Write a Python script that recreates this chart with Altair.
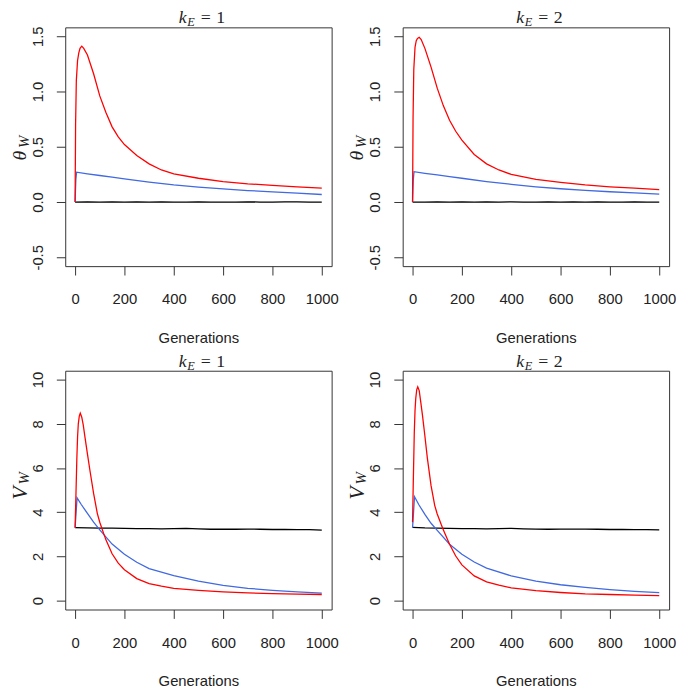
import altair as alt
import pandas as pd

# ---------------- data ----------------
GEN_RED_T = [0, 2, 5, 10, 15, 20, 27, 35, 50, 75, 100, 125, 150, 175, 200,
             250, 300, 350, 400, 500, 600, 700, 800, 900, 1000]
THETA_RED_K1 = [0, 0.70, 1.10, 1.28, 1.35, 1.39, 1.41, 1.39, 1.33, 1.16, 0.96, 0.81,
                0.68, 0.59, 0.52, 0.42, 0.345, 0.29, 0.255, 0.215, 0.185, 0.165,
                0.15, 0.137, 0.126]
THETA_RED_K2 = [0, 0.75, 1.20, 1.40, 1.46, 1.48, 1.49, 1.47, 1.39, 1.22, 1.03, 0.87,
                0.74, 0.64, 0.56, 0.43, 0.345, 0.29, 0.25, 0.205, 0.178, 0.155,
                0.138, 0.125, 0.113]

GEN_BLUE_T = [0, 3, 6, 50, 100, 150, 200, 300, 400, 500, 600, 700, 800, 900, 1000]
THETA_BLUE_K1 = [0, 0.20, 0.27, 0.255, 0.24, 0.225, 0.21, 0.18, 0.155, 0.135, 0.118,
                 0.104, 0.092, 0.080, 0.068]
THETA_BLUE_K2 = [0, 0.20, 0.275, 0.26, 0.245, 0.23, 0.215, 0.185, 0.16, 0.138, 0.12,
                 0.105, 0.093, 0.082, 0.071]

GEN_BLACK = [0, 50, 100, 150, 200, 250, 300, 350, 400, 450, 500, 550, 600, 650,
             700, 750, 800, 850, 900, 950, 1000]
THETA_BLACK_K1 = [0.0, 0.001, -0.001, 0.001, -0.001, 0.001, 0.0, 0.001, -0.001,
                  0.0, 0.001, -0.001, 0.0, -0.001, 0.001, 0.0, -0.001, 0.001,
                  0.001, -0.001, 0.0]
THETA_BLACK_K2 = [0.0, -0.001, 0.001, 0.0, 0.001, -0.001, 0.001, -0.001, 0.001,
                  0.0, -0.001, 0.001, 0.0, 0.001, -0.001, 0.001, 0.0, -0.001,
                  0.001, 0.0, 0.0]

GEN_RED_V = [0, 3, 7, 10, 13, 17, 21, 27, 33, 40, 50, 60, 75, 90, 100, 117, 125,
             150, 175, 200, 250, 300, 350, 400, 500, 600, 700, 800, 900, 1000]
V_RED_K1 = [3.3, 4.6, 6.4, 7.4, 8.0, 8.35, 8.48, 8.3, 7.95, 7.4, 6.64, 5.9, 4.85,
            3.95, 3.55, 3.0, 2.75, 2.12, 1.7, 1.4, 1.0, 0.77, 0.655, 0.56, 0.47,
            0.40, 0.35, 0.32, 0.30, 0.28]
V_RED_K2 = [3.55, 5.4, 7.6, 8.6, 9.15, 9.55, 9.67, 9.5, 9.0, 8.4, 7.45, 6.45, 5.2,
            4.3, 3.92, 3.42, 3.2, 2.55, 2.02, 1.62, 1.12, 0.85, 0.70, 0.58, 0.45,
            0.37, 0.31, 0.28, 0.25, 0.23]

GEN_BLUE_V = [0, 8, 25, 50, 75, 100, 150, 200, 250, 300, 400, 500, 600, 700, 800,
              900, 1000]
V_BLUE_K1 = [3.3, 4.65, 4.35, 3.95, 3.55, 3.2, 2.56, 2.1, 1.74, 1.45, 1.13, 0.88,
             0.69, 0.56, 0.47, 0.40, 0.34]
V_BLUE_K2 = [3.3, 4.7, 4.35, 3.9, 3.5, 3.18, 2.55, 2.1, 1.75, 1.47, 1.12, 0.88,
             0.72, 0.60, 0.50, 0.42, 0.36]

V_BLACK_K1 = [3.30, 3.29, 3.28, 3.28, 3.27, 3.26, 3.26, 3.25, 3.26, 3.27, 3.25,
              3.23, 3.24, 3.23, 3.24, 3.23, 3.22, 3.22, 3.21, 3.21, 3.19]
V_BLACK_K2 = [3.32, 3.29, 3.28, 3.27, 3.26, 3.26, 3.25, 3.26, 3.27, 3.25, 3.24,
              3.23, 3.24, 3.24, 3.24, 3.23, 3.22, 3.22, 3.21, 3.21, 3.20]

X_TICKS = [0, 200, 400, 600, 800, 1000]
THETA_TICKS = [-0.5, 0.0, 0.5, 1.0, 1.5]
V_TICKS = [0, 2, 4, 6, 8, 10]

SERIES = ["black", "blue", "red"]
COLORS = ["#000000", "#4169E1", "#FF0000"]

W, H = 270, 242
SERIF = "Liberation Serif"
SANS = "Liberation Sans"
TXT = "#222222"


def one(text, x, y, size, italic=True, angle=0):
    return alt.Chart(pd.DataFrame({"a": [0]})).mark_text(
        text=text, font=SERIF, fontSize=size,
        fontStyle="italic" if italic else "normal",
        align="center", baseline="middle", angle=angle, color=TXT,
    ).encode(x=alt.value(x), y=alt.value(y))


def panel(red_gen, red, blue_gen, blue, black, domain, ticks, fmt, letter, k,
          title_y, letter_size):
    rows = []
    for g, v in zip(GEN_BLACK, black):
        rows.append({"gen": g, "val": v, "series": "black", "o": 0})
    for g, v in zip(blue_gen, blue):
        rows.append({"gen": g, "val": v, "series": "blue", "o": 1})
    for g, v in zip(red_gen, red):
        rows.append({"gen": g, "val": v, "series": "red", "o": 2})
    df = pd.DataFrame(rows)

    lines = alt.Chart(df).mark_line(strokeWidth=1.3, clip=True).encode(
        x=alt.X("gen:Q",
                scale=alt.Scale(domain=[-40, 1040], nice=False, zero=False),
                axis=alt.Axis(values=X_TICKS, title="Generations", format="d")),
        y=alt.Y("val:Q",
                scale=alt.Scale(domain=domain, nice=False, zero=False),
                axis=alt.Axis(values=ticks, title=None, format=fmt,
                              labelExpr="replace(datum.label, '\u2212', '-')",
                              labelAngle=270, labelAlign="center",
                              labelBaseline="bottom", labelPadding=11)),
        color=alt.Color("series:N",
                        scale=alt.Scale(domain=SERIES, range=COLORS),
                        legend=None),
        order=alt.Order("o:Q"),
    )

    is_theta = letter == "θ"
    ly = 130 if is_theta else 124
    wy = ly - (14 if is_theta else 15)
    layers = [
        lines,
        # panel title  k_E = <k>
        one("k", 119, title_y, 18),
        one("E", 127.5, title_y + 4, 12.5),
        one("=", 142.5, title_y, 18, italic=False),
        one(str(k), 157.5, title_y, 18, italic=False),
        # y axis label  letter_W
        one(letter, -46, ly, letter_size, angle=270),
        one("W", -42, wy, 15, angle=270),
    ]
    return alt.layer(*layers).properties(width=W, height=H)


p1 = panel(GEN_RED_T, THETA_RED_K1, GEN_BLUE_T, THETA_BLUE_K1, THETA_BLACK_K1,
           [-0.58, 1.58], THETA_TICKS, ".1f", "θ", 1, -9, 20)
p2 = panel(GEN_RED_T, THETA_RED_K2, GEN_BLUE_T, THETA_BLUE_K2, THETA_BLACK_K2,
           [-0.58, 1.58], THETA_TICKS, ".1f", "θ", 2, -9, 20)
p3 = panel(GEN_RED_V, V_RED_K1, GEN_BLUE_V, V_BLUE_K1, V_BLACK_K1,
           [-0.4, 10.4], V_TICKS, "d", "V", 1, -9, 22)
p4 = panel(GEN_RED_V, V_RED_K2, GEN_BLUE_V, V_BLUE_K2, V_BLACK_K2,
           [-0.4, 10.4], V_TICKS, "d", "V", 2, -9, 22)

chart = alt.concat(
    p1, p2, p3, p4, columns=2, bounds="flush",
    spacing={"row": 106, "column": 72},
).properties(
    padding={"left": 0, "top": -4, "right": 0, "bottom": 0}
).configure_view(
    stroke="#333333", strokeWidth=1
).configure_axis(
    domain=False, grid=False,
    ticks=True, tickSize=9, tickColor="#333333", tickWidth=1,
    labelFont=SANS, labelFontSize=15, labelColor=TXT,
    titleFont=SANS, titleFontSize=15, titleFontWeight="normal", titleColor=TXT,
).configure_axisX(
    labelPadding=17, titlePadding=24,
)

chart.save("out.html", embed_options={"renderer": "svg", "actions": False})
